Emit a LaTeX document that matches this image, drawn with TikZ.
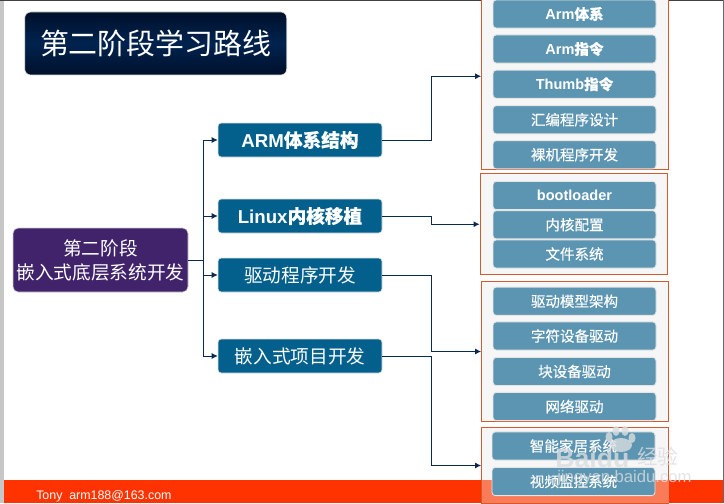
\documentclass[tikz,border=0pt]{standalone}
\usepackage{fontspec}
\setmainfont{Liberation Sans}
\newfontfamily\cjk{Noto Sans CJK SC}
\newfontfamily\cjkb[FakeBold=0.3]{Noto Sans CJK SC}
\usetikzlibrary{arrows.meta}
\definecolor{lineblue}{HTML}{0B2A52}
\definecolor{levelblue}{HTML}{03608C}
\definecolor{itemblue}{HTML}{5C95B1}
\definecolor{rootpurple}{HTML}{40236A}
\definecolor{footred}{HTML}{FF3300}
\definecolor{footpale}{HTML}{F97B58}
\definecolor{groupline}{HTML}{D4592B}
\definecolor{groupfill}{HTML}{F6F6F6}
\definecolor{navyedge}{HTML}{00102A}
\definecolor{navymid}{HTML}{00234F}
\definecolor{wmgrey}{HTML}{DADDE0}
\newcommand{\dn}[1]{\raisebox{-1.6pt}{#1}}
\tikzset{
  px/.style={x=0.75pt,y=-0.75pt},
  titlebox/.style={draw=black!15,line width=.5pt,rounded corners=4.5pt,inner sep=0,text=white,
    top color=navyedge,bottom color=navyedge,middle color=navymid},
  rootbox/.style={draw=black!20,line width=.4pt,fill=rootpurple,rounded corners=4pt,inner sep=0,text=white,
    font=\cjk\fontsize{14pt}{18pt}\selectfont,align=center},
  levelbox/.style={draw=black!12,line width=.4pt,fill=levelblue,rounded corners=2.5pt,inner sep=0,text=white,
    minimum width=123pt,minimum height=25.5pt,font=\fontsize{14pt}{16pt}\selectfont},
  groupbox/.style={draw=groupline,line width=.75pt,fill=groupfill,inner sep=0},
  itembox/.style={draw=black!10,line width=.6pt,fill=itemblue,rounded corners=2.5pt,inner sep=0,text=white,
    minimum width=122.25pt,minimum height=21.2pt,font=\fontsize{10.9pt}{12pt}\selectfont},
  conn/.style={draw=lineblue,line width=.7pt},
  arr/.style={conn,-{Latex[length=4.5pt,width=4.5pt]}},
  wm/.style={text=wmgrey,text opacity=.8,inner sep=0},
  wmpaw/.style={fill=wmgrey,opacity=.8}
}
\begin{document}
\begin{tikzpicture}[px]
\useasboundingbox (0,0) rectangle (724,503);
\fill[white] (0,0) rectangle (724,503);
\fill[black!22] (0,0) rectangle (3.5,503);
\fill[black!75] (0,0) rectangle (724,1);
\fill[black!60] (723.2,0) rectangle (724,503);
\fill[footred] (3.5,480) rectangle (723.2,503);
\node[anchor=west,text=white,font=\fontsize{9.3pt}{11pt}\selectfont,inner sep=0] (foot) at (36,496.5) {Tony\ \ arm188@163.com};

\node[titlebox,minimum width=196.5pt,minimum height=47.25pt] (title) at (155.75,43.5) {\cjk\fontsize{21.7pt}{24pt}\selectfont 第二阶段学习路线};
\node[rootbox,minimum width=131.25pt,minimum height=48pt] (root) at (100.5,260) {\dn{第二阶段}\\\dn{嵌入式底层系统开发}};

\node[levelbox] (l1) at (300,140) {\dn{\bfseries ARM{\cjkb 体系结构}}};
\node[levelbox] (l2) at (300,216) {\dn{\bfseries Linux{\cjkb 内核移植}}};
\node[levelbox] (l3) at (300,275) {\dn{\cjk 驱动程序开发}};
\node[levelbox] (l4) at (300,356) {\dn{\cjk 嵌入式项目开发}};

\node[groupbox,minimum width=140.5pt,minimum height=139.9pt] (g1) at (575.25,76.25) {};
\node[groupbox,minimum width=140.5pt,minimum height=76pt] (g2) at (573.75,224.25) {};
\node[groupbox,minimum width=140.5pt,minimum height=105pt] (g3) at (575.25,351.5) {};
\node[groupbox,minimum width=140.5pt,minimum height=57pt] (g4) at (575.25,465.5) {};
\fill[footpale] (482,480) rectangle (668.6,503);

\node[itembox] (a1) at (574.5,14) {\dn{\bfseries Arm{\cjkb 体系}}};
\node[itembox] (a2) at (574.5,49) {\dn{\bfseries Arm{\cjkb 指令}}};
\node[itembox] (a3) at (574.5,84.25) {\dn{\bfseries Thumb{\cjkb 指令}}};
\node[itembox] (a4) at (574.5,119.75) {\dn{\cjkb 汇编程序设计}};
\node[itembox] (a5) at (574.5,154.75) {\dn{\cjkb 裸机程序开发}};
\node[itembox] (b1) at (574.5,195.5) {\dn{\bfseries bootloader}};
\node[itembox] (b2) at (574.5,224.75) {\dn{\cjkb 内核配置}};
\node[itembox] (b3) at (574.5,254) {\dn{\cjkb 文件系统}};
\node[itembox] (c1) at (574.5,301.25) {\dn{\cjkb 驱动模型架构}};
\node[itembox] (c2) at (574.5,336) {\dn{\cjkb 字符设备驱动}};
\node[itembox] (c3) at (574.5,371.5) {\dn{\cjkb 块设备驱动}};
\node[itembox] (c4) at (574.5,406.5) {\dn{\cjkb 网络驱动}};
\node[itembox] (d1) at (573.5,446) {\dn{\cjkb 智能家居系统}};
\node[itembox] (d2) at (573.5,481.5) {\dn{\cjkb 视频监控系统}};

\coordinate (m0) at (203,260);
\coordinate (m1) at (431.5,260);
\foreach \l in {l1,l2,l3,l4}{
  \draw[arr] (root.east) -- (m0) -- (m0 |- \l.west) -- (\l.west);
}
\draw[arr] (l1.east) -- (l1.east -| m1) -- (m1 |- g1.west) -- (g1.west);
\draw[arr] (l2.east) -- (l2.east -| m1) -- (m1 |- g2.west) -- (g2.west);
\draw[arr] (l3.east) -- (l3.east -| m1) -- (m1 |- g3.west) -- (g3.west);
\draw[arr] (l4.east) -- (l4.east -| m1) -- (m1 |- g4.west) -- (g4.west);

% watermark
\node[wm,anchor=west,font=\fontsize{20pt}{22pt}\selectfont\bfseries] (wb) at (555,457.5) {Baidu};
\node[wm,anchor=west,font=\cjk\fontsize{15.5pt}{18pt}\selectfont] (wj) at (637,456) {经验};
\node[wm,anchor=west,font=\fontsize{12.5pt}{14pt}\selectfont] (wu) at (557,478) {jingyan.baidu.com};
\fill[wmpaw] (621,445) ellipse (11 and 7);
\fill[wmpaw] (609,437) ellipse (3.5 and 5);
\fill[wmpaw] (616,431) ellipse (3.5 and 5);
\fill[wmpaw] (625,431) ellipse (3.5 and 5);
\fill[wmpaw] (632,438) ellipse (3.5 and 5);
\end{tikzpicture}
\end{document}
